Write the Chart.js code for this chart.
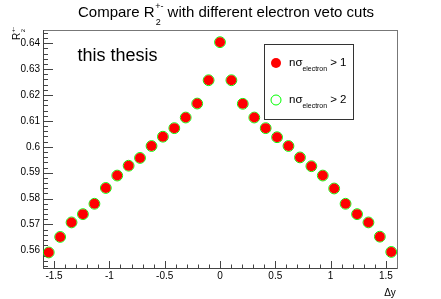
<!DOCTYPE html>
<html>
<head>
<meta charset="utf-8">
<script src="https://cdn.jsdelivr.net/npm/chart.js@4.4.1/dist/chart.umd.min.js"></script>
<style>
html,body{margin:0;padding:0;background:#fff;}
#wrap{position:relative;width:441px;height:299px;}
canvas{display:block;}
</style>
</head>
<body>
<div id="wrap"><canvas id="c" width="441" height="299"></canvas></div>
<script>
// ---- data ----
const deltaY = [-1.548, -1.445, -1.342, -1.239, -1.135, -1.032, -0.929, -0.826, -0.723, -0.619, -0.516, -0.413, -0.310, -0.206, -0.103, 0,
                0.103, 0.206, 0.310, 0.413, 0.516, 0.619, 0.723, 0.826, 0.929, 1.032, 1.135, 1.239, 1.342, 1.445, 1.548];
const r2Cut1 = [0.5592, 0.5652, 0.5708, 0.5740, 0.5780, 0.5841, 0.5889, 0.5927, 0.5957, 0.6003, 0.6039, 0.6072, 0.6113, 0.6167, 0.6257, 0.6404,
                0.6257, 0.6166, 0.6113, 0.6072, 0.6037, 0.6003, 0.5959, 0.5925, 0.5889, 0.5839, 0.5780, 0.5740, 0.5708, 0.5653, 0.5594];
const r2Cut2 = [0.5592, 0.5652, 0.5708, 0.5740, 0.5780, 0.5841, 0.5889, 0.5927, 0.5957, 0.6003, 0.6039, 0.6072, 0.6113, 0.6167, 0.6257, 0.6404,
                0.6257, 0.6166, 0.6113, 0.6072, 0.6037, 0.6003, 0.5959, 0.5925, 0.5889, 0.5839, 0.5780, 0.5740, 0.5708, 0.5653, 0.5594];
const seriesCuts = ['1', '2'];
const xTickValues = [-1.5, -1, -0.5, 0, 0.5, 1, 1.5];
const xTickLabels = ['-1.5', '-1', '-0.5', '0', '0.5', '1', '1.5'];
const yTickValues = [0.56, 0.57, 0.58, 0.59, 0.60, 0.61, 0.62, 0.63, 0.64];
const yTickLabels = ['0.56', '0.57', '0.58', '0.59', '0.6', '0.61', '0.62', '0.63', '0.64'];
const annotationText = 'this thesis';

const FONT = '"Liberation Sans", Arial, Helvetica, sans-serif';

function pts(xs, ys){ return xs.map((x,i)=>({x:x, y:ys[i]})); }

function drawScript(ctx, x, y, parts, size){
  let cx = x;
  let lastBase = x;
  for (const p of parts){
    if (p.kind === 'n'){
      ctx.font = size + 'px ' + FONT;
      ctx.fillText(p.t, cx, y);
      cx += ctx.measureText(p.t).width;
      lastBase = cx;
    } else if (p.kind === 'sub'){
      ctx.font = (size*0.6) + 'px ' + FONT;
      ctx.fillText(p.t, lastBase + (p.dx||0), y + size*(p.dy!==undefined?p.dy:0.5));
      const w = ctx.measureText(p.t).width;
      cx = Math.max(cx, lastBase + (p.dx||0) + w);
    } else if (p.kind === 'sup'){
      ctx.font = (size*0.6) + 'px ' + FONT;
      ctx.fillText(p.t, lastBase + (p.dx||0), y - size*(p.dy!==undefined?p.dy:0.5));
      const w = ctx.measureText(p.t).width;
      cx = Math.max(cx, lastBase + (p.dx||0) + w);
    }
  }
  return cx;
}

const decor = {
  id: 'decor',
  beforeDatasetsDraw(chart){
    const ctx = chart.ctx, a = chart.chartArea;
    const xs = chart.scales.x, ys = chart.scales.y;
    ctx.save();
    ctx.lineWidth = 1;
    ctx.strokeStyle = '#777';
    ctx.strokeRect(Math.round(a.left)+0.5, Math.round(a.top)+0.5, Math.round(a.right-a.left), Math.round(a.bottom-a.top));
    ctx.strokeStyle = '#444';
    ctx.beginPath();
    ctx.moveTo(Math.round(a.left)+0.5, a.top); ctx.lineTo(Math.round(a.left)+0.5, a.bottom+0.5);
    ctx.lineTo(a.right, Math.round(a.bottom)+0.5);
    ctx.stroke();
    ctx.beginPath();
    for (let k=-16; k<=16; k++){
      const v = k*0.1;
      const px = Math.round(xs.getPixelForValue(v))+0.5;
      if (px < a.left || px > a.right) continue;
      const len = (k % 5 === 0) ? 7 : 3.5;
      ctx.moveTo(px, a.bottom); ctx.lineTo(px, a.bottom - len);
    }
    for (let k=276; k<=323; k++){
      const v = k*0.002;
      const py = Math.round(ys.getPixelForValue(v))+0.5;
      if (py < a.top || py > a.bottom) continue;
      const len = (k % 5 === 0) ? 10 : 5;
      ctx.moveTo(a.left, py); ctx.lineTo(a.left + len, py);
    }
    ctx.stroke();
    ctx.restore();
  },
  afterDraw(chart){
    const ctx = chart.ctx;
    ctx.save();
    ctx.fillStyle = '#000';
    ctx.textBaseline = 'alphabetic';
    ctx.textAlign = 'left';
    drawScript(ctx, 78, 16.5, [
      {t:'Compare R', kind:'n'},
      {t:'+-', kind:'sup', dy:0.52, dx:0.5},
      {t:'2', kind:'sub', dy:0.55, dx:1},
      {t:' with different electron veto cuts', kind:'n'}
    ], 15);
    ctx.font = '18px ' + FONT;
    ctx.fillText(annotationText, 77.5, 61);
    ctx.save();
    ctx.translate(20, 40);
    ctx.rotate(-Math.PI/2);
    drawScript(ctx, 0, 0, [
      {t:'R', kind:'n'},
      {t:'+-', kind:'sup', dy:0.5, dx:0.3},
      {t:'2', kind:'sub', dy:0.5, dx:0.5}
    ], 10);
    ctx.restore();
    ctx.font = '10px ' + FONT;
    ctx.textAlign = 'center';
    ctx.fillText('\u0394y', 390, 296);
    ctx.textAlign = 'left';
    const lx = 264, ly = 44, lw = 89, lh = 75;
    ctx.fillStyle = '#fff';
    ctx.fillRect(lx, ly, lw, lh);
    ctx.strokeStyle = '#333';
    ctx.lineWidth = 1;
    ctx.strokeRect(lx+0.5, ly+0.5, lw, lh);
    const rows = [63, 100];
    chart.data.datasets.forEach((ds, i) => {
      const cy = rows[i];
      ctx.beginPath();
      ctx.arc(276, cy, 5, 0, Math.PI*2);
      if (i === 0){ ctx.fillStyle = 'rgb(255,0,0)'; ctx.fill(); }
      else { ctx.strokeStyle = 'rgb(0,255,0)'; ctx.lineWidth = 1; ctx.stroke(); }
      ctx.fillStyle = '#000';
      drawScript(ctx, 289, cy + 3, [
        {t:'n\u03c3', kind:'n'},
        {t:'electron', kind:'sub', dy:0.42, dx:0},
        {t:' > ' + seriesCuts[i], kind:'n'}
      ], 11.5);
    });
    ctx.restore();
  }
};

new Chart(document.getElementById('c'), {
  type: 'scatter',
  data: {
    datasets: [
      {
        label: 'n\u03c3 electron > ' + seriesCuts[0],
        data: pts(deltaY, r2Cut1),
        pointRadius: 5,
        pointBackgroundColor: 'rgb(255,0,0)',
        pointBorderColor: 'rgb(255,0,0)',
        pointBorderWidth: 0,
        showLine: false
      },
      {
        label: 'n\u03c3 electron > ' + seriesCuts[1],
        data: pts(deltaY, r2Cut2),
        pointRadius: 5.4,
        pointBackgroundColor: 'rgba(0,0,0,0)',
        pointBorderColor: 'rgb(0,255,0)',
        pointBorderWidth: 1,
        showLine: false
      }
    ]
  },
  options: {
    responsive: false,
    animation: false,
    events: [],
    layout: { padding: { top: 30, right: 44, left: 0, bottom: 0 } },
    plugins: { legend: { display: false }, title: { display: false }, tooltip: { enabled: false } },
    scales: {
      x: {
        type: 'linear', min: -1.6, max: 1.6,
        afterFit(s){ s.height = 31; },
        afterBuildTicks(s){ s.ticks = xTickValues.map(v => ({value: v})); },
        grid: { display: false, drawTicks: false },
        border: { display: false },
        ticks: {
          padding: 2, color: '#000', font: { family: FONT, size: 10 }, maxRotation: 0, autoSkip: false,
          callback(v){ const i = xTickValues.findIndex(t => Math.abs(t - v) < 1e-9); return i >= 0 ? xTickLabels[i] : ''; }
        }
      },
      y: {
        type: 'linear', min: 0.5532, max: 0.6451,
        afterFit(s){ s.width = 43; },
        afterBuildTicks(s){ s.ticks = yTickValues.map(v => ({value: v})); },
        grid: { display: false, drawTicks: false },
        border: { display: false },
        ticks: {
          padding: 3, color: '#000', font: { family: FONT, size: 10 }, autoSkip: false,
          callback(v){ const i = yTickValues.findIndex(t => Math.abs(t - v) < 1e-9); return i >= 0 ? yTickLabels[i] : ''; }
        }
      }
    }
  },
  plugins: [decor]
});
</script>
</body>
</html>
